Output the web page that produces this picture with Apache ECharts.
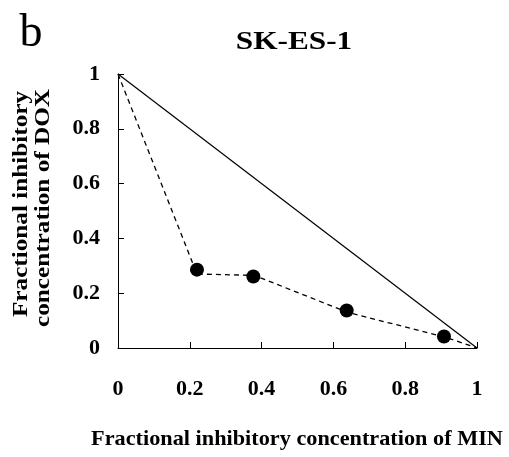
<!DOCTYPE html>
<html>
<head>
<meta charset="utf-8">
<script src="https://cdn.jsdelivr.net/npm/echarts@6/dist/echarts.min.js"></script>
<style>html,body{margin:0;padding:0;background:#fff}#c{width:509px;height:457px}</style>
</head>
<body>
<div id="c"></div>
<script>
const xTicks = [0, 0.2, 0.4, 0.6, 0.8, 1];
const yTicks = [0, 0.2, 0.4, 0.6, 0.8, 1];
const additiveLine = [[0, 1], [1, 0]];
const dashedLine = [[0, 1], [0.22, 0.27], [0.38, 0.265], [0.64, 0.13], [0.91, 0.04], [1, 0]];
const pointsX = [0.22, 0.377, 0.637, 0.908];
const pointsY = [0.286, 0.261, 0.137, 0.042];
const title = 'SK-ES-1';
const panelLabel = 'b';
const xName = 'Fractional inhibitory concentration of MIN';
const yNameLines = ['Fractional inhibitory', 'concentration of DOX'];

const font = '"Liberation Serif"';
const chart = echarts.init(document.getElementById('c'), null, {renderer: 'canvas'});
const fmt = ticks => v => { const t = ticks.find(x => Math.abs(x - v) < 1e-9); return t === undefined ? '' : String(t); };
chart.setOption({
  animation: false,
  backgroundColor: '#fff',
  graphic: [
    {type: 'text', x: 31, y: 34, style: {text: panelLabel, font: '46px ' + font, fill: '#000', textAlign: 'center', textVerticalAlign: 'middle'}},
    {type: 'text', x: 294, y: 43, scaleX: 1.25, style: {text: title, font: 'bold 25px ' + font, fill: '#000', textAlign: 'center', textVerticalAlign: 'middle'}},
    {type: 'text', x: 297, y: 440, scaleX: 1.06, style: {text: xName, font: 'bold 21px ' + font, fill: '#000', textAlign: 'center', textVerticalAlign: 'middle'}},
    {type: 'text', x: 22, y: 204, rotation: Math.PI / 2, scaleX: 1.2, style: {text: yNameLines[0], font: 'bold 21px ' + font, fill: '#000', textAlign: 'center', textVerticalAlign: 'middle'}},
    {type: 'text', x: 44, y: 208, rotation: Math.PI / 2, scaleX: 1.2, style: {text: yNameLines[1], font: 'bold 21px ' + font, fill: '#000', textAlign: 'center', textVerticalAlign: 'middle'}}
  ],
  grid: {left: 118, right: 32, top: 74, bottom: 109},
  xAxis: {
    type: 'value', min: 0, max: 1, interval: 0.2,
    axisLine: {show: true, lineStyle: {color: '#000', width: 1}},
    axisTick: {show: true, inside: true, length: 6, lineStyle: {color: '#000'}},
    axisLabel: {margin: 30, fontFamily: 'Liberation Serif', fontWeight: 'bold', fontSize: 22, color: '#000', formatter: fmt(xTicks)},
    splitLine: {show: false}
  },
  yAxis: {
    type: 'value', min: 0, max: 1, interval: 0.2,
    axisLine: {show: true, lineStyle: {color: '#000', width: 1}},
    axisTick: {show: true, inside: true, length: 6, lineStyle: {color: '#000'}},
    axisLabel: {margin: 18, fontFamily: 'Liberation Serif', fontWeight: 'bold', fontSize: 22, color: '#000', formatter: fmt(yTicks)},
    splitLine: {show: false}
  },
  series: [
    {type: 'line', data: additiveLine, symbol: 'none', lineStyle: {color: '#000', width: 1.2}},
    {type: 'line', data: dashedLine, symbol: 'none', lineStyle: {color: '#000', width: 1.3, type: [5, 4]}},
    {type: 'scatter', data: pointsX.map((x, i) => [x, pointsY[i]]), symbol: 'circle', symbolSize: 14, itemStyle: {color: '#000', opacity: 1}}
  ]
});
</script>
</body>
</html>
